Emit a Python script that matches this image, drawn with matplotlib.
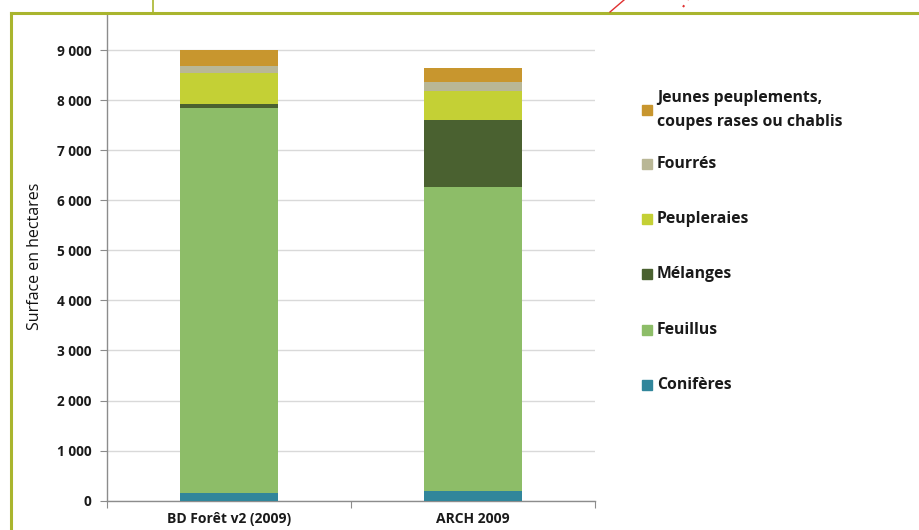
import matplotlib
matplotlib.use("Agg")
import matplotlib.pyplot as plt
from matplotlib.patches import Rectangle
from matplotlib.lines import Line2D
from matplotlib.ticker import FuncFormatter

plt.rcParams['font.family'] = ['Open Sans', 'DejaVu Sans']

categories = ["BD Forêt v2 (2009)", "ARCH 2009"]
series_names = ["Conifères", "Feuillus", "Mélanges", "Peupleraies", "Fourrés",
                "Jeunes peuplements,\ncoupes rases ou chablis"]
series_colors = ["#31869b", "#8dbd68", "#4a6130", "#c4d035", "#b9b796", "#c8962e"]
conif = [150, 195]
feuillus = [7700, 6060]
melanges = [75, 1350]
peupleraies = [615, 575]
fourres = [150, 185]
jeunes = [320, 275]
series_values = [conif, feuillus, melanges, peupleraies, fourres, jeunes]
yticks = [0, 1000, 2000, 3000, 4000, 5000, 6000, 7000, 8000, 9000]

W, H = 920, 530
fig = plt.figure(figsize=(W / 100, H / 100), dpi=100)
ax = fig.add_axes([107 / W, (H - 500.7) / H, (595 - 107) / W, (500.7 - 12.7) / H])

x = list(range(len(categories)))
bottoms = [0] * len(categories)
for name, vals, col in zip(series_names, series_values, series_colors):
    ax.bar(x, vals, width=0.4, bottom=bottoms, color=col, zorder=3)
    bottoms = [b + v for b, v in zip(bottoms, vals)]

ax.set_xlim(-0.5, 1.5)
ax.set_ylim(0, 9745)
ax.set_yticks(yticks)
ax.yaxis.set_major_formatter(FuncFormatter(lambda v, p: f"{int(v):,}".replace(",", " ")))
for lbl in ax.get_yticklabels():
    lbl.set_fontweight('bold')
    lbl.set_fontsize(9.8)
    lbl.set_color("#1a1a1a")
ax.yaxis.grid(True, color="#d9d9d9", linewidth=1, zorder=0)
ax.set_axisbelow(True)
ax.tick_params(axis='y', length=5, color="#8c8c8c", pad=6)

# category ticks on the boundaries, labels at bar centres
ax.set_xticks([-0.5, 0.5, 1.5])
ax.set_xticklabels([])
ax.tick_params(axis='x', length=5, color="#8c8c8c", direction='out')
for xi, cat in zip(x, categories):
    ax.text(xi, -0.038, cat, transform=ax.get_xaxis_transform(), ha='center', va='center',
            fontsize=10, fontweight='bold', color="#1a1a1a")

for s in ['top', 'right']:
    ax.spines[s].set_visible(False)
for s in ['left', 'bottom']:
    ax.spines[s].set_color("#8c8c8c")
    ax.spines[s].set_linewidth(1)

ax.set_ylabel("Surface en hectares", fontsize=11.5, color="#111111", labelpad=10,
              fontweight='medium')

# legend drawn item by item, top entry first
leg_y = [110, 164, 219, 274, 330, 385]
for yy, name, col in zip(leg_y, series_names[::-1], series_colors[::-1]):
    fig.patches.append(Rectangle(((642) / W, (H - yy - 5) / H), 10 / W, 10 / H,
                                 transform=fig.transFigure, color=col))
    fig.text(657 / W, (H - yy) / H, name, ha='left', va='center', fontsize=11.3,
             fontweight='bold', color="#1a1a1a", linespacing=1.7)

# page frame around the chart
frame = "#a9b52e"
fig.lines.append(Line2D([11 / W, 11 / W], [0, (H - 13) / H], transform=fig.transFigure,
                        color=frame, linewidth=2.2))
fig.lines.append(Line2D([11 / W, 1], [(H - 13) / H, (H - 13) / H], transform=fig.transFigure,
                        color=frame, linewidth=2.2))
fig.lines.append(Line2D([153 / W, 153 / W], [(H - 13) / H, 1], transform=fig.transFigure,
                        color=frame, linewidth=1.2))
fig.lines.append(Line2D([610 / W, 624 / W], [(H - 12) / H, 1], transform=fig.transFigure,
                        color="#e03030", linewidth=1))
fig.lines.append(Line2D([683 / W, 688 / W], [(H - 7) / H, 1], transform=fig.transFigure,
                        color="#e03030", linewidth=1.5, linestyle=(0, (1, 3))))

fig.savefig("out.png", dpi=100)
